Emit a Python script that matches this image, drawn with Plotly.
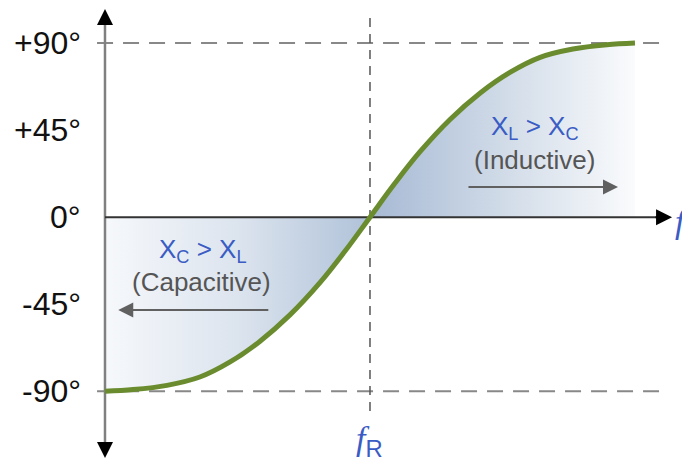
import plotly.graph_objects as go

# ---- data (frequency in units where f_R = 5, phase in degrees) ----
freq_low = [0.0, 0.53, 1.17, 1.79, 2.36, 2.92, 3.49, 4.06, 4.53, 5.0]
phase_low = [-90.0, -89.1, -86.9, -82.6, -74.8, -64.2, -50.5, -33.7, -17.5, 0.0]
freq_high = [5.0, 5.47, 5.94, 6.51, 7.08, 7.64, 8.21, 8.83, 9.47, 10.0]
phase_high = [0.0, 17.5, 33.7, 50.5, 64.2, 74.8, 82.6, 86.9, 89.1, 90.0]
tick_vals = [90, 45, 0, -45, -90]
tick_text = ["+90°", "+45°", "0°", "-45°", "-90°"]
f_res = 5.0

freq_all = freq_low + freq_high[1:]
phase_all = phase_low + phase_high[1:]

GREEN = "#6a8c2f"
BLUE = "#3a5cc4"
GREY = "#808080"
SANS = "Liberation Sans, Arial"
SERIF = "Liberation Serif, Times New Roman"

fig = go.Figure()

# gradient fills
fig.add_trace(go.Scatter(
    x=freq_low, y=phase_low, mode="lines", line=dict(width=0, shape="spline"),
    fill="tozeroy",
    fillgradient=dict(type="horizontal",
                      colorscale=[[0, "#f6f8fb"], [0.5, "#dce4ee"], [1, "#b0c2d9"]],
                      start=0, stop=f_res),
    hoverinfo="skip"))
fig.add_trace(go.Scatter(
    x=freq_high, y=phase_high, mode="lines", line=dict(width=0, shape="spline"),
    fill="tozeroy",
    fillgradient=dict(type="horizontal",
                      colorscale=[[0, "#a6b9d4"], [0.5, "#d3dde9"], [1, "#ffffff"]],
                      start=f_res, stop=10.3),
    hoverinfo="skip"))

# dashed reference lines
x_left, x_right = -0.15, 10.57
for v in (90, -90):
    fig.add_trace(go.Scatter(x=[x_left, x_right], y=[v, v], mode="lines",
                             line=dict(color="#888888", width=2, dash="16px,10px"),
                             hoverinfo="skip"))
fig.add_trace(go.Scatter(x=[f_res, f_res], y=[102.9, -102.2], mode="lines",
                         line=dict(color="#555555", width=1.5, dash="9px,7px"),
                         hoverinfo="skip"))

# axes lines
fig.add_trace(go.Scatter(x=[0, 0], y=[101.9, -117.6], mode="lines",
                         line=dict(color=GREY, width=2.5), hoverinfo="skip"))
fig.add_trace(go.Scatter(x=[0, 10.47], y=[0, 0], mode="lines",
                         line=dict(color="#333333", width=2), hoverinfo="skip"))

# curve
fig.add_trace(go.Scatter(x=freq_all, y=phase_all, mode="lines",
                         line=dict(color=GREEN, width=5, shape="spline", smoothing=1.0),
                         hoverinfo="skip"))

ann = []
# tick labels
for v, t in zip(tick_vals, tick_text):
    ann.append(dict(x=-0.415, y=v, text=t, showarrow=False, xanchor="right",
                    yanchor="middle",
                    font=dict(family=SANS, size=32, color="#111111")))

# axis arrowheads
ann.append(dict(x=0, y=107.6, ax=0, ay=16, showarrow=True, arrowhead=2,
                arrowsize=1.6, arrowwidth=2, arrowcolor="#000000", text=""))
ann.append(dict(x=0, y=-124.4, ax=0, ay=-16, showarrow=True, arrowhead=2,
                arrowsize=1.6, arrowwidth=2, arrowcolor="#000000", text=""))
ann.append(dict(x=10.70, y=0, ax=-18, ay=0, showarrow=True, arrowhead=2,
                arrowsize=1.6, arrowwidth=2, arrowcolor="#000000", text=""))

# region arrows
ann.append(dict(x=0.25, y=-48.0, ax=3.11, ay=-48.0, axref="x", ayref="y",
                showarrow=True, arrowhead=2, arrowsize=1.5, arrowwidth=2,
                arrowcolor="#606060", text=""))
ann.append(dict(x=9.68, y=15.6, ax=6.83, ay=15.6, axref="x", ayref="y",
                showarrow=True, arrowhead=2, arrowsize=1.5, arrowwidth=2,
                arrowcolor="#606060", text=""))

# region labels
lab_font = dict(family=SANS, size=26, color=BLUE)
sub_font = dict(family=SANS, size=26, color="#555555")
ann.append(dict(x=1.85, y=-17.0, text="X<sub>C</sub> > X<sub>L</sub>", showarrow=False,
                font=lab_font))
ann.append(dict(x=1.83, y=-33.5, text="(Capacitive)", showarrow=False, font=sub_font))
ann.append(dict(x=8.11, y=46.6, text="X<sub>L</sub> > X<sub>C</sub>", showarrow=False,
                font=lab_font))
ann.append(dict(x=8.11, y=29.6, text="(Inductive)", showarrow=False, font=sub_font))

# axis names
ann.append(dict(x=10.71, y=-2.0, text="<i>f</i>", showarrow=False, xanchor="left",
                font=dict(family=SERIF, size=34, color=BLUE)))
ann.append(dict(x=f_res, y=-115.5,
                text="<i>f</i><sub><span style='font-family:Liberation Sans, Arial'>R</span></sub>",
                showarrow=False,
                font=dict(family=SERIF, size=34, color=BLUE)))

fig.update_layout(
    width=690, height=461,
    margin=dict(l=0, r=0, t=0, b=0),
    paper_bgcolor="white", plot_bgcolor="white",
    showlegend=False,
    xaxis=dict(visible=False, range=[-1.830, 11.189], fixedrange=True),
    yaxis=dict(visible=False, range=[-130.13, 108.11], fixedrange=True),
    annotations=ann,
)

fig.write_html("out.html")
